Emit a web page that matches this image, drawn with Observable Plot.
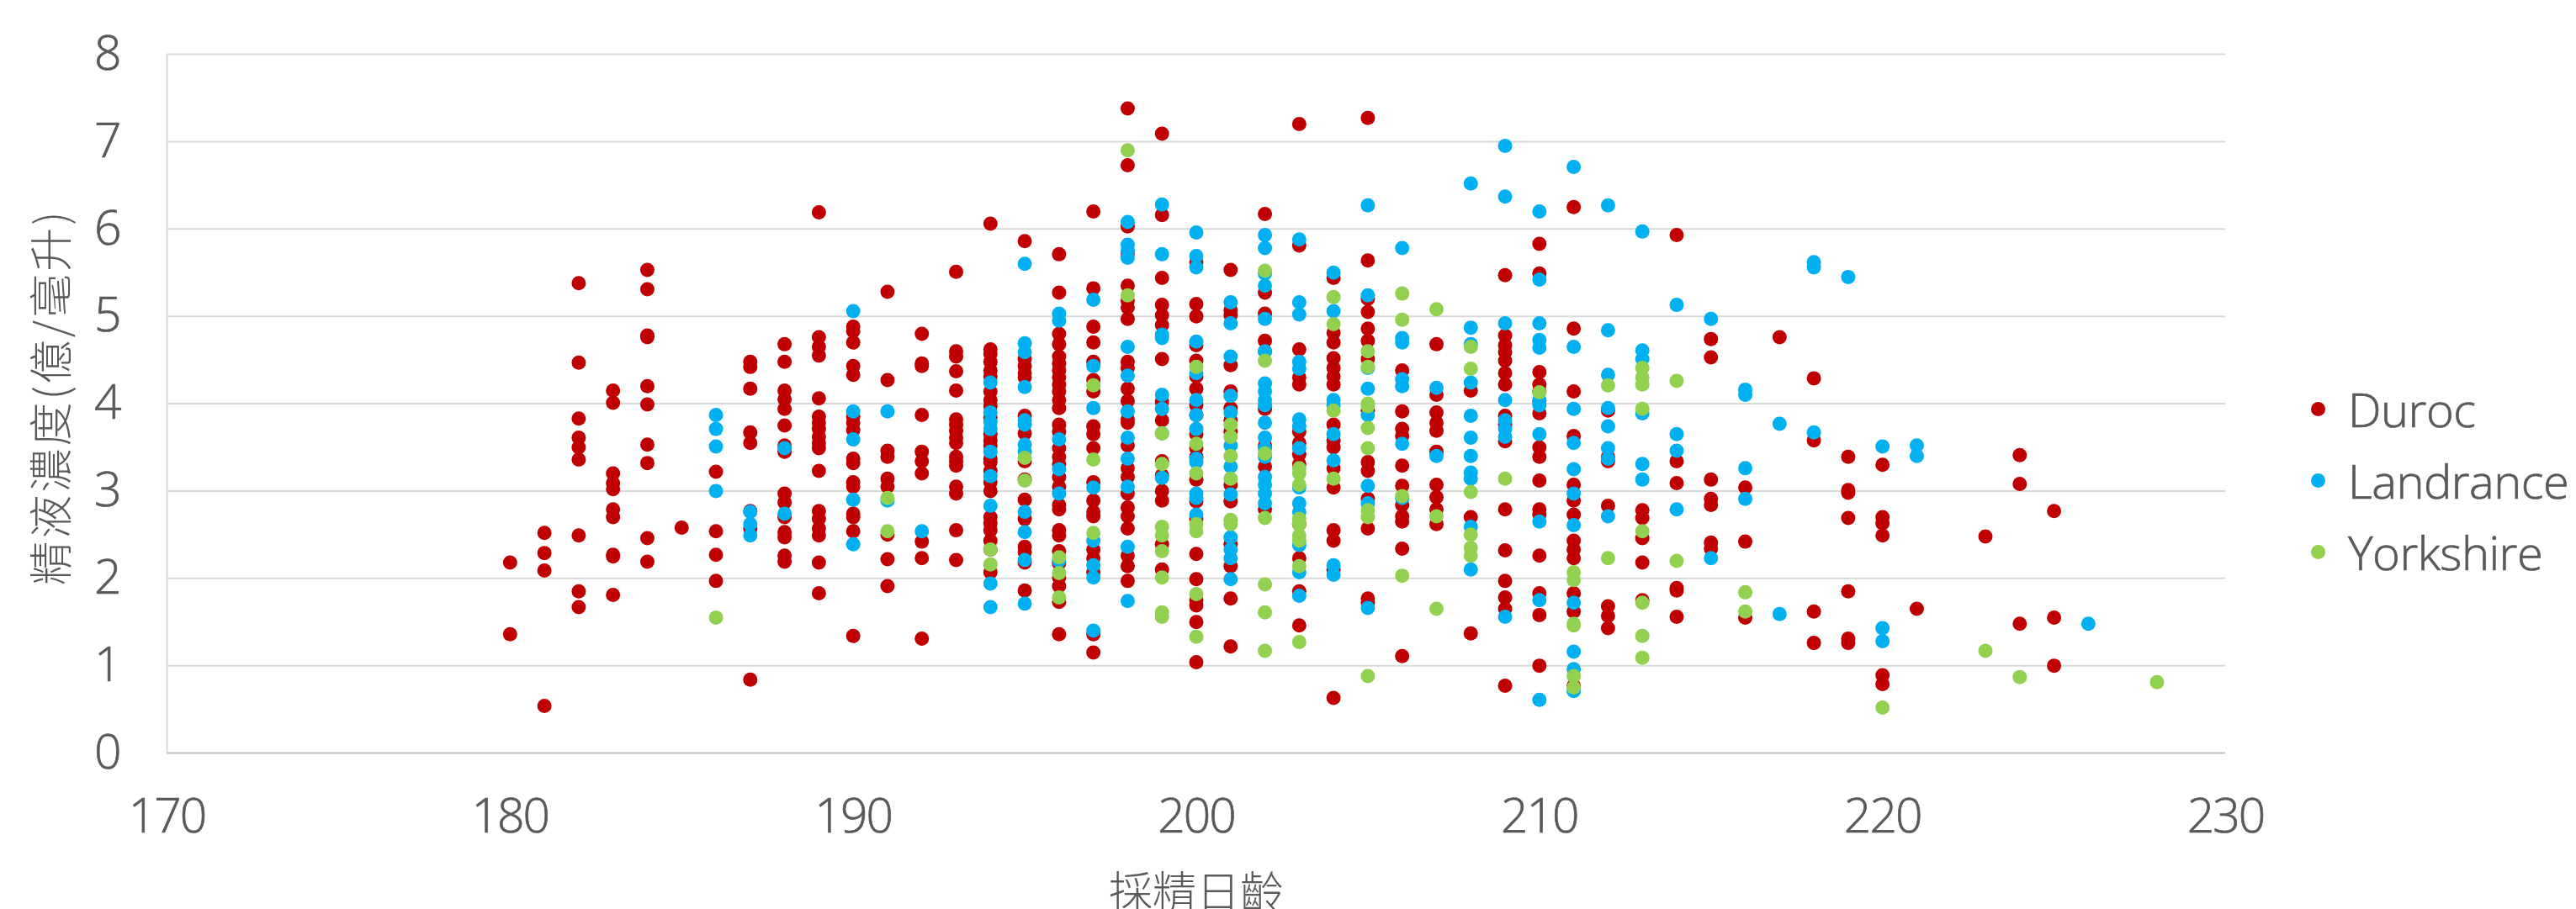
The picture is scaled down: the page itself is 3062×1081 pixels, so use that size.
<!DOCTYPE html>
<html lang="zh-Hant">
<head>
<meta charset="utf-8">
<script src="https://cdn.jsdelivr.net/npm/d3@7"></script>
<script src="https://cdn.jsdelivr.net/npm/@observablehq/plot@0.6"></script>
<style>
html,body{margin:0;padding:0;background:#fff;overflow:hidden}
#wrap{position:relative;width:3062px;height:1081px}
svg{display:block}
#legend{position:absolute;left:2747px;top:444px;font:300 56px "Open Sans","Noto Sans",sans-serif;color:#595959;-webkit-text-stroke:.7px #595959;letter-spacing:-.5px}
#legend div{height:85px;line-height:85px;white-space:nowrap;display:flex;align-items:center}
#legend i{display:inline-block;width:17px;height:17px;border-radius:50%;margin-right:27px;-webkit-text-stroke:0}
</style>
</head>
<body>
<div id="wrap"></div>
<script>
const breeds = ["Duroc", "Landrance", "Yorkshire"];
const breedColors = ["#C00000", "#00B0F0", "#92D050"];
const xTicks = [170, 180, 190, 200, 210, 220, 230];
const yTicks = [0, 1, 2, 3, 4, 5, 6, 7, 8];
const xTitle = "採精日齡";
const yTitle = "精液濃度(億/毫升)";

const duroc = [
 [180,[2.18,1.36]],[181,[2.52,2.29,2.09,0.54]],[182,[5.38,4.47,3.83,3.61,3.50,3.36,2.49,1.85,1.67]],
 [183,[4.15,4.01,3.20,3.09,3.02,2.79,2.70,2.27,2.25,1.81]],[184,[5.53,5.31,4.78,4.76,4.20,3.99,3.53,3.32,2.46,2.19]],
 [185,[2.58]],[186,[3.22,2.54,2.27,1.97]],[187,[4.48,4.42,4.17,3.67,3.55,2.77,2.57,0.84]],
 [188,[4.68,4.48,4.15,4.05,3.94,3.75,3.52,3.45,2.97,2.87,2.70,2.53,2.47,2.26,2.19]],
 [189,[6.19,4.76,4.65,4.55,4.06,3.85,3.78,3.71,3.62,3.55,3.49,3.23,2.77,2.68,2.57,2.49,2.18,1.83]],
 [190,[4.88,4.83,4.70,4.43,4.33,3.85,3.78,3.70,3.37,3.32,3.10,3.05,2.74,2.70,2.54,1.34]],
 [191,[5.28,4.27,3.46,3.39,3.14,3.05,2.50,2.22,1.91]],
 [192,[4.80,4.46,4.43,3.87,3.45,3.34,3.20,2.42,2.23,1.31]],
 [193,[5.51,4.60,4.54,4.37,4.15,3.82,3.76,3.69,3.61,3.55,3.39,3.34,3.29,3.05,2.97,2.55,2.21]],
 [194,[6.06,4.62,4.57,4.48,4.38,4.31,4.14,4.04,3.97,3.84,3.65,3.58,3.52,3.37,3.33,3.23,3.10,3.00,2.70,2.63,2.55,2.43,2.33,2.07]],
 [195,[5.86,4.51,4.43,4.35,4.30,3.86,3.66,3.34,3.13,2.90,2.68,2.36,2.30,2.18,1.86]],
 [196,[5.71,5.27,4.80,4.68,4.54,4.46,4.38,4.30,4.22,4.14,4.04,3.95,3.76,3.68,3.49,3.39,3.31,3.16,3.05,2.84,2.79,2.55,2.49,2.31,2.17,2.01,1.91,1.73,1.36]],
 [197,[6.20,5.32,4.88,4.70,4.48,4.27,4.14,3.74,3.65,3.49,3.10,2.89,2.76,2.71,2.33,2.23,2.07,1.36,1.15]],
 [198,[7.38,6.73,6.03,5.72,5.35,5.18,5.10,4.97,4.48,4.41,4.17,4.03,3.82,3.78,3.52,3.26,3.16,2.97,2.81,2.71,2.57,2.26,2.14,1.97]],
 [199,[7.09,6.16,5.44,5.13,5.01,4.90,4.51,4.02,3.81,3.34,3.18,3.00,2.89,2.39,2.10]],
 [200,[5.62,5.14,5.00,4.67,4.49,4.31,4.17,3.98,3.87,3.65,3.49,3.39,3.13,2.88,2.68,2.28,1.99,1.75,1.69,1.50,1.04]],
 [201,[5.53,5.07,5.01,4.44,4.14,3.95,3.81,3.68,3.07,2.88,2.39,2.14,1.77,1.22]],
 [202,[6.17,5.27,5.03,4.72,4.60,3.94,3.52,3.28,2.79]],
 [203,[7.20,5.81,4.62,4.30,4.22,3.68,3.55,3.42,3.31,2.62,2.23,1.85,1.46]],
 [204,[5.44,4.81,4.70,4.52,4.41,4.31,4.22,3.76,3.58,3.50,3.26,3.04,2.55,2.43,2.10,0.63]],
 [205,[7.27,5.64,5.20,5.05,4.86,4.72,4.51,3.92,3.33,3.23,2.91,2.57,1.77,1.72]],
 [206,[4.38,3.91,3.71,3.63,3.29,3.06,2.84,2.71,2.65,2.34,1.11]],
 [207,[4.68,4.10,3.90,3.78,3.69,3.45,3.07,2.93,2.79,2.62]],
 [208,[4.15,2.70,1.37]],
 [209,[5.47,4.78,4.67,4.59,4.49,4.35,4.22,3.86,3.76,3.57,2.79,2.32,1.97,1.78,1.65,0.77]],
 [210,[5.83,5.49,4.36,4.22,4.14,4.03,3.89,3.50,3.39,3.12,2.79,2.73,2.26,1.83,1.58,1.00]],
 [211,[6.25,4.86,4.14,3.63,3.07,2.89,2.73,2.43,2.33,2.23,1.83,1.62,0.77]],
 [212,[3.92,3.39,3.34,2.83,1.68,1.57,1.43]],
 [213,[2.78,2.69,2.46,2.18,1.75]],
 [214,[5.93,3.34,3.09,1.89,1.86,1.56]],
 [215,[4.74,4.53,3.13,2.91,2.84,2.41,2.34]],
 [216,[3.04,2.42,1.55]],
 [217,[4.76]],[218,[4.29,3.58,1.62,1.26]],[219,[3.39,3.01,2.98,2.69,1.85,1.31,1.26]],
 [220,[3.30,2.70,2.63,2.49,0.89,0.79]],[221,[1.65]],[223,[2.48]],[224,[3.41,3.08,1.48]],[225,[2.77,1.55,1.00]]
];

const landrance = [
 [186,[3.87,3.71,3.51,3.00]],[187,[2.76,2.62,2.49]],[188,[3.49,2.74]],[190,[5.06,3.91,3.59,2.90,2.39]],
 [191,[3.91,2.89]],[192,[2.54]],
 [194,[4.24,3.90,3.79,3.71,3.45,3.17,2.83,1.94,1.67]],
 [195,[5.60,4.69,4.59,4.19,3.81,3.76,3.53,3.45,2.76,2.53,2.21,1.71]],
 [196,[5.03,4.95,3.59,3.25,2.97,2.20]],
 [197,[5.19,4.43,3.95,3.04,2.43,2.15,2.01,1.40]],
 [198,[6.08,5.82,5.75,5.67,4.65,4.32,3.91,3.61,3.37,3.05,2.36,1.74]],
 [199,[6.28,5.71,4.79,4.75,4.10,3.94,3.66,3.15]],
 [200,[5.96,5.69,5.56,4.71,4.35,4.04,3.87,3.71,3.37,3.33,2.97,2.92,2.73]],
 [201,[5.16,4.92,4.54,4.09,3.90,3.52,3.28,2.96,2.47,2.33,2.23,1.99]],
 [202,[5.93,5.78,5.49,5.35,4.97,4.60,4.23,4.14,4.04,3.98,3.78,3.61,3.49,3.39,3.16,3.07,2.97,2.86]],
 [203,[5.88,5.16,5.02,4.48,4.40,3.82,3.74,3.49,3.04,2.86,2.76,2.38,2.07,1.80]],
 [204,[5.50,5.06,4.04,3.98,3.65,3.35,2.15,2.04]],
 [205,[6.27,5.24,4.41,4.17,3.87,3.06,2.86,1.66]],
 [206,[5.78,4.75,4.70,4.28,4.20,3.54,2.92]],
 [207,[4.18,3.40]],
 [208,[6.52,4.87,4.68,4.24,3.86,3.61,3.40,3.21,3.14,2.59,2.10]],
 [209,[6.95,6.37,4.92,4.04,3.81,3.71,3.62,1.56]],
 [210,[6.20,5.42,4.92,4.73,4.64,4.04,3.98,3.65,2.65,1.75,0.61]],
 [211,[6.71,4.65,3.94,3.55,3.25,2.97,2.61,1.72,1.16,0.96,0.71]],
 [212,[6.27,4.84,4.33,3.95,3.74,3.49,3.37,2.71]],
 [213,[5.97,4.61,4.51,3.89,3.31,3.13]],
 [214,[5.13,3.65,3.46,2.79]],[215,[4.97,2.23]],[216,[4.16,4.10,3.26,2.91]],
 [217,[3.77,1.59]],[218,[5.62,5.56,3.67]],[219,[5.45]],[220,[3.51,1.43,1.28]],[221,[3.52,3.40]],[226,[1.48]]
];

const yorkshire = [
 [186,[1.55]],[191,[2.92,2.54]],[194,[2.33,2.16]],[195,[3.38,3.12]],[196,[2.24,2.06,1.78]],
 [197,[4.21,3.36,2.52]],[198,[6.90,5.24]],[199,[3.66,3.31,2.59,2.49,2.31,2.01,1.61,1.56]],
 [200,[4.42,3.54,3.20,2.62,2.54,1.82,1.33]],[201,[3.76,3.62,3.40,3.14,2.67,2.62]],
 [202,[5.52,4.49,3.43,2.69,1.93,1.61,1.17]],[203,[3.26,3.20,3.07,2.68,2.62,2.49,2.43,2.14,1.27]],
 [204,[5.22,4.91,3.92,3.14]],[205,[4.60,4.42,4.00,3.97,3.72,3.49,2.78,2.70,0.88]],
 [206,[5.26,4.96,2.94,2.03]],[207,[5.08,2.71,1.65]],[208,[4.65,4.40,2.99,2.50,2.35,2.26]],
 [209,[3.14]],[210,[4.13]],[211,[2.07,1.98,1.48,1.46,0.88,0.75]],[212,[4.21,2.23]],
 [213,[4.41,4.30,4.22,3.94,2.54,1.72,1.34,1.09]],[214,[4.26,2.20]],[216,[1.84,1.62]],
 [220,[0.52]],[223,[1.17]],[224,[0.87]],[228,[0.81]]
];

const flatten = (rows, breed) => rows.flatMap(([age, vals]) => vals.map(v => ({age, v, breed})));
const points = [
  ...flatten(duroc, breeds[0]),
  ...flatten(landrance, breeds[1]),
  ...flatten(yorkshire, breeds[2])
];

const fontLatin = '"Open Sans","Noto Sans CJK TC",sans-serif';
const chart = Plot.plot({
  width: 3062, height: 1081,
  marginLeft: 198, marginRight: 417, marginTop: 64, marginBottom: 186,
  style: {fontFamily: fontLatin, fontWeight: 300, background: "#fff", color: "#595959"},
  x: {domain: [170, 230]},
  y: {domain: [0, 8]},
  color: {domain: breeds, range: breedColors},
  marks: [
    Plot.gridY(yTicks.slice(1), {stroke: "#D9D9D9", strokeWidth: 2, strokeOpacity: 1}),
    Plot.ruleX([170], {stroke: "#D9D9D9", strokeWidth: 2}),
    Plot.ruleY([0], {stroke: "#BFBFBF", strokeWidth: 2}),
    Plot.axisX({ticks: xTicks, tickSize: 0, tickPadding: 54, fontSize: 57, fill: "#595959",
      tickFormat: d => String(d), label: xTitle, labelAnchor: "center", labelArrow: "none", labelOffset: 184}),
    Plot.axisY({ticks: yTicks, tickSize: 0, tickPadding: 56, fontSize: 57, fill: "#595959",
      tickFormat: d => String(d), label: yTitle, labelAnchor: "center", labelArrow: "none", labelOffset: 155}),
    Plot.dot(points, {x: "age", y: "v", fill: "breed", r: 8.5})
  ]
});
d3.select(chart).selectAll('[aria-label="x-axis tick label"] text, [aria-label="y-axis tick label"] text')
  .style("stroke", "#595959").style("stroke-width", ".7px").style("letter-spacing", "-2px");
d3.select(chart).selectAll('[aria-label="x-axis label"] text, [aria-label="y-axis label"] text')
  .style("font-family", '"Noto Sans CJK TC",sans-serif').style("font-size", "52px").style("fill", "#595959");
d3.select(chart).selectAll('[aria-label="y-axis label"] text').style("letter-spacing", "3px").attr("dx", 8);
const wrap = document.getElementById("wrap");
wrap.appendChild(chart);
const legend = d3.select(wrap).append("div").attr("id", "legend");
breeds.forEach((b, i) => {
  const row = legend.append("div");
  row.append("i").style("background", breedColors[i]);
  row.append("span").text(b);
});
</script>
</body>
</html>
